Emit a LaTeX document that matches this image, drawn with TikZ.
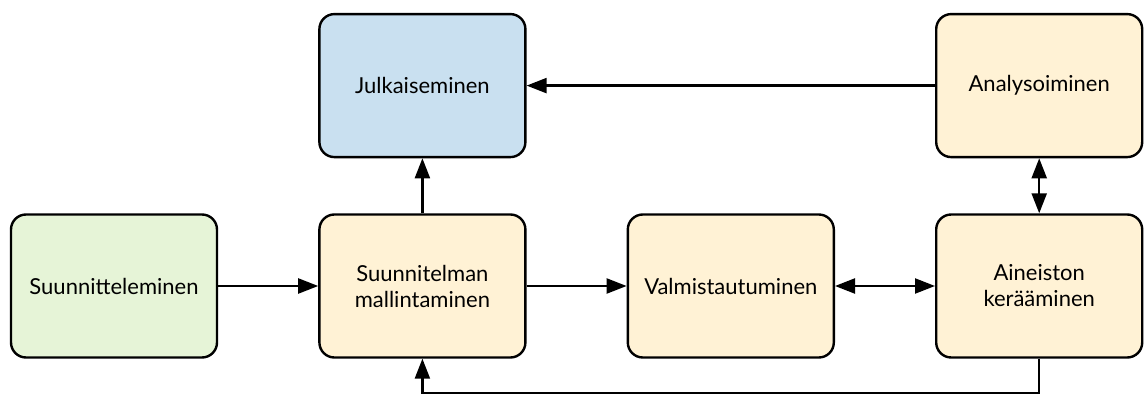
\documentclass[tikz,border=0pt]{standalone}
\usepackage{fontspec}
\setmainfont{Lato}
\usetikzlibrary{positioning,arrows.meta}
\definecolor{planfill}{HTML}{E6F4D7}
\definecolor{stepfill}{HTML}{FFF2D5}
\definecolor{pubfill}{HTML}{C9E0F0}
\tikzstyle{phase} = [rectangle, rounded corners=7.5pt, draw=black, line width=1.2pt, minimum width=103pt, minimum height=71.5pt, align=center, font=\fontsize{11}{13}\selectfont]
\tikzstyle{arrow} = [line width=1.1pt, -{Triangle[length=10pt,width=7.5pt]}]
\tikzstyle{darrow} = [line width=1.1pt, {Triangle[length=10pt,width=7.5pt]}-{Triangle[length=10pt,width=7.5pt]}]

\begin{document}
\begin{tikzpicture}[node distance=50pt]
        \useasboundingbox (0,0) rectangle (572pt,198pt);

        \node (plan) [phase, fill=planfill] at (57pt,55pt) {Suunnitteleminen};
        \node (model) [phase, fill=stepfill, right=of plan] {Suunnitelman\\mallintaminen};
        \node (prep) [phase, fill=stepfill, right=of model] {Valmistautuminen};
        \node (collect) [phase, fill=stepfill, right=of prep] {Aineiston\\kerääminen};

        \node (pub) [phase, fill=pubfill, above=27.5pt of model] {Julkaiseminen};
        \node (analyse) [phase, fill=stepfill, above=27.5pt of collect] {Analysoiminen};

        \draw [arrow] (plan) -- (model);
        \draw [arrow] (model) -- (prep);
        \draw [darrow] (prep) -- (collect);
        \draw [darrow] (analyse) -- (collect);
        \draw [arrow] (analyse) -- (pub);
        \draw [arrow] (model) -- (pub);
        \draw [arrow] (collect.south) -- ++(0,-17pt) -| (model.south);

    \end{tikzpicture}
\end{document}
